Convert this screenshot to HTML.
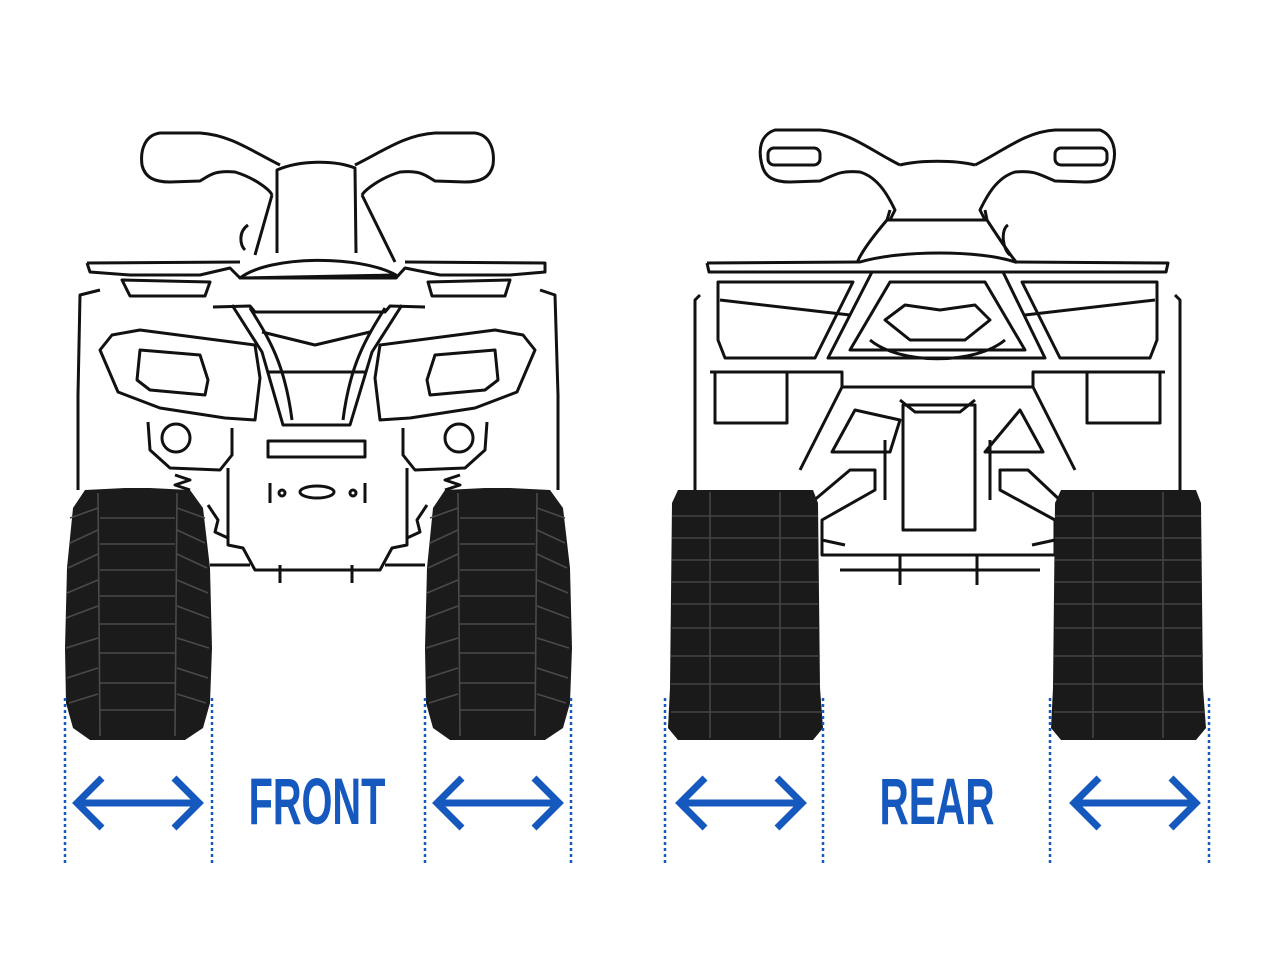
<!DOCTYPE html>
<html><head><meta charset="utf-8"><style>
html,body{margin:0;padding:0;background:#fff;}
svg{display:block;}
</style></head><body>
<svg width="1280" height="960" viewBox="0 0 1280 960" xmlns="http://www.w3.org/2000/svg">
<defs>
<g id="ftrack">
<path d="M20,2 L60,0 L85,0 L125,2 L138,20 L145,80 L147,160 L145,215 L138,240 L120,252 L25,252 L8,240 L1,215 L0,160 L2,80 L8,20 Z" fill="#1b1b1b"/>
<g stroke="#4a4a4a" stroke-width="1.6" fill="none">
<path d="M33,5 L35,248 M112,5 L110,248"/>
<path d="M5,30 L33,20 M5,55 L33,42 M3,80 L33,66 M2,105 L33,92 M1,130 L33,118 M1,160 L33,150 M2,190 L33,180 M4,215 L33,206"/>
<path d="M140,30 L112,20 M140,55 L112,42 M142,80 L112,66 M143,105 L112,92 M144,130 L112,118 M144,160 L112,150 M143,190 L112,180 M141,215 L112,206"/>
<path d="M35,30 H110 M35,56 H110 M35,82 H110 M35,108 H110 M35,136 H110 M35,165 H110 M35,195 H110 M35,222 H110"/>
</g>
</g>
<g id="rtrack">
<path d="M10,2 L145,2 L150,15 L152,200 L155,240 L145,252 L10,252 L0,240 L2,200 L4,15 Z" fill="#1a1a1a"/>
<g stroke="#444" stroke-width="1.6" fill="none">
<path d="M42,4 L42,250 M112,4 L112,250"/>
<path d="M4,28 H150 M4,50 H150 M4,72 H150 M4,94 H150 M4,116 H150 M4,140 H150 M3,168 H152 M3,196 H152 M3,224 H153"/>
</g>
</g>
<g id="arrow" stroke="#1558be" stroke-width="7" fill="none" stroke-linecap="butt">
<path d="M2,0 H124"/>
<path d="M27,-25 L2,0 L27,25"/>
<path d="M99,-25 L124,0 L99,25"/>
</g>
</defs>

<!-- FRONT ATV outline -->
<g stroke="#111" stroke-width="3" fill="none" stroke-linejoin="round">
<!-- handlebars -->
<path d="M280,165 C250,150 230,135 200,133 L160,133 C145,135 140,150 142,165 C145,178 155,182 170,182 L200,181 C210,175 215,170 235,172 C255,178 270,190 272,195"/>
<path d="M355,165 C385,150 405,135 435,133 L475,133 C490,135 495,150 493,165 C490,178 480,182 465,182 L435,181 C425,175 420,170 400,172 C380,178 365,190 362,195"/>
<path d="M277,253 L277,170 C300,160 335,160 355,168 L356,253"/>
<path d="M272,195 L255,255 M362,195 L395,262"/>
<path d="M240,278 C270,255 360,255 396,275 Z"/>
<path d="M248,225 C238,232 240,245 245,250"/>
<!-- top rail -->
<path d="M87,263 L90,272 L130,275 L200,275 L230,268 L240,278 L396,278 L405,268 L440,275 L510,275 L545,272 L545,263 L405,262 M240,262 L87,263"/>
<!-- body sides -->
<path d="M100,290 L80,295 L78,395 L78,490"/>
<path d="M540,290 L555,295 L558,395 L558,490"/>
<!-- vents -->
<path d="M122,280 L210,282 L205,296 L130,296 Z M428,282 L510,280 L505,296 L432,296 Z"/>
<!-- V frame -->
<path d="M213,307 L250,306 L255,312 L385,312 L390,306 L425,307"/>
<path d="M232,305 L262,352 L283,425 L350,425 L372,352 L402,305"/>
<path d="M250,308 C270,340 285,365 292,420 M385,308 C365,340 350,365 343,420"/>
<path d="M262,332 L315,345 L370,332 M268,372 L365,372"/>
<!-- light pods -->
<path d="M112,335 L140,330 L255,345 L260,378 L255,420 L225,418 L160,408 L118,392 L100,350 Z"/>
<path d="M140,350 L200,355 L208,380 L205,395 L150,390 L137,380 Z"/>
<path d="M523,335 L495,330 L380,345 L375,378 L380,420 L410,418 L475,408 L517,392 L535,350 Z"/>
<path d="M495,350 L435,355 L427,380 L430,395 L485,390 L498,380 Z"/>
<!-- fog lights -->
<path d="M148,422 L150,450 L170,468 L220,470 L232,455 L232,428"/>
<circle cx="176" cy="438" r="14"/>
<path d="M487,422 L485,450 L465,468 L415,470 L403,455 L403,428"/>
<circle cx="459" cy="438" r="14"/>
<rect x="268" y="441" width="97" height="16"/>
<!-- lower plate -->
<path d="M228,468 L228,545 L243,548 L255,570 L380,570 L392,548 L407,545 L407,468"/>
<path d="M270,483 L270,503 M365,483 L365,503"/>
<ellipse cx="317" cy="492" rx="17" ry="6"/>
<circle cx="282" cy="493" r="3"/><circle cx="353" cy="493" r="3"/>
<path d="M208,505 L218,520 L215,532 L228,538 M427,505 L417,520 L420,532 L407,538"/>
<path d="M210,565 L250,565 M385,565 L425,565 M280,565 L280,583 M352,565 L352,583"/>
<!-- springs -->
<path d="M175,475 L190,480 L175,485 L190,490 M460,475 L445,480 L460,485 L445,490"/>
</g>

<!-- REAR ATV outline -->
<g stroke="#111" stroke-width="3" fill="none" stroke-linejoin="round">
<path d="M900,165 C870,150 850,132 820,130 L775,130 C760,135 758,150 762,165 C765,178 775,182 790,182 L820,181 C835,175 840,170 860,172 C880,178 890,200 895,210 L890,220"/>
<path d="M975,165 C1005,150 1025,132 1055,130 L1100,130 C1113,135 1117,150 1113,165 C1110,178 1100,182 1085,182 L1055,181 C1040,175 1035,170 1015,172 C995,178 985,200 980,210 L985,220"/>
<path d="M900,165 C920,160 955,160 975,165"/>
<rect x="768" y="148" width="52" height="17" rx="6"/>
<rect x="1055" y="148" width="52" height="17" rx="6"/>
<path d="M890,210 L887,220 L987,220 L985,210"/>
<path d="M887,220 C870,240 860,255 857,263 M987,220 C1000,240 1010,255 1017,263"/>
<path d="M1008,225 C1000,230 1003,250 1010,255"/>
<path d="M707,263 L709,272 L1166,272 L1168,263 L1015,262 C980,250 900,250 860,262 L707,263"/>
<path d="M700,295 L695,300 L695,490 M1175,295 L1180,300 L1180,490"/>
<path d="M872,272 L828,358 L1045,358 L1003,272 Z"/>
<path d="M890,282 L850,350 L1025,350 L985,282 Z"/>
<path d="M718,282 L853,282 L815,358 L725,358 L718,340 Z"/>
<path d="M1157,282 L1022,282 L1060,358 L1150,358 L1157,340 Z"/>
<path d="M720,300 L850,315 M1155,300 L1025,315"/>
<path d="M885,320 L905,305 L940,310 L975,305 L990,320 L965,340 L910,340 Z"/>
<path d="M870,340 C900,365 975,365 1005,340"/>
<path d="M710,372 L842,372 L842,387 L1033,387 L1033,372 L1165,372"/>
<path d="M715,373 L715,423 L787,423 L787,373 M1087,373 L1087,423 L1160,423 L1160,373"/>
<path d="M842,387 L800,470 M1033,387 L1075,470"/>
<path d="M855,410 L832,452 L890,452 L900,420 Z M1020,410 L1043,452 L985,452 Z"/>
<path d="M903,405 L903,530 L975,530 L975,405 Z"/>
<path d="M900,400 L915,412 L960,412 L975,400"/>
<path d="M812,502 L850,470 L875,470 L875,490 L822,520 L822,555 L1055,555 L1055,520 L1000,490 L1000,470 L1028,470 L1062,502"/>
<path d="M822,540 L845,545 M1055,540 L1032,545 M840,570 L1040,570 M900,555 L900,585 M977,555 L977,585"/>
<path d="M885,440 L885,500 M990,440 L990,500"/>
</g>

<!-- tracks -->
<use href="#ftrack" x="65" y="488"/>
<use href="#ftrack" x="425" y="488"/>
<use href="#rtrack" x="668" y="488"/>
<use href="#rtrack" x="1051" y="488"/>

<!-- dotted lines -->
<g stroke="#1558be" stroke-width="2.5" stroke-dasharray="3,3">
<path d="M65,698 V866 M212,698 V866 M425,698 V866 M571,698 V866 M665,698 V866 M823,698 V866 M1050,698 V866 M1209,698 V866"/>
</g>

<!-- arrows -->
<use href="#arrow" x="75" y="803"/>
<use href="#arrow" x="435" y="803"/>
<use href="#arrow" x="678" y="803"/>
<use href="#arrow" x="1072" y="803"/>

<!-- labels -->
<text x="317" y="824" text-anchor="middle" font-family="Liberation Sans, sans-serif" font-weight="bold" font-size="66" fill="#1558be" transform="translate(317 0) scale(0.72 1) translate(-317 0)" textLength="190" lengthAdjust="spacingAndGlyphs">FRONT</text>
<text x="937" y="824" text-anchor="middle" font-family="Liberation Sans, sans-serif" font-weight="bold" font-size="66" fill="#1558be" textLength="115" lengthAdjust="spacingAndGlyphs">REAR</text>
</svg>
</body></html>
